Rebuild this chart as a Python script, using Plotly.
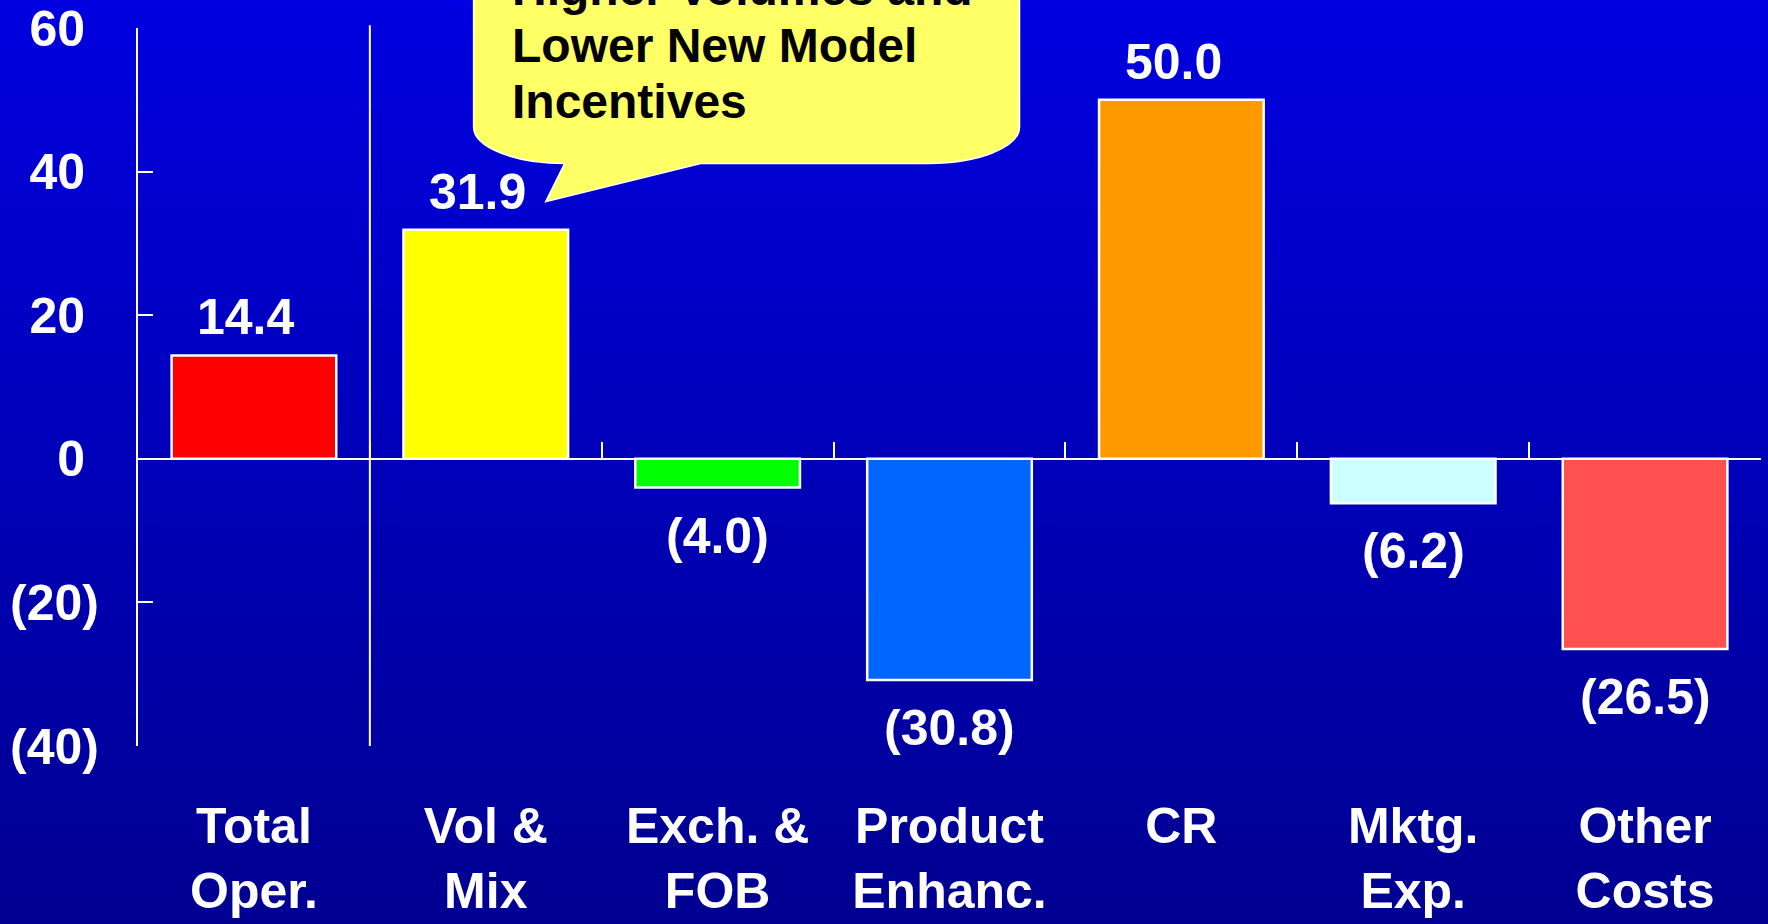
import plotly.graph_objects as go

# ---------------- data ----------------
categories = ["Total<br>Oper.", "Vol &<br>Mix", "Exch. &<br>FOB", "Product<br>Enhanc.",
              "CR", "Mktg.<br>Exp.", "Other<br>Costs"]
values = [14.4, 31.9, -4.0, -30.8, 50.0, -6.2, -26.5]
value_labels = ["14.4", "31.9", "(4.0)", "(30.8)", "50.0", "(6.2)", "(26.5)"]
bar_colors = ["#FF0000", "#FFFF00", "#00FF00", "#0066FF", "#FF9900", "#CCFFFF", "#FF5050"]
y_tickvals = [60, 40, 20, 0, -20, -40]
y_ticktext = ["60\u00a0", "40\u00a0", "20\u00a0", "0\u00a0", "(20)", "(40)"]
callout_lines = ["Higher Volumes and", "Lower New Model", "Incentives"]

# ---------------- layout geometry ----------------
W, H = 1768, 924
ML, MR, MT, MB = 138, 7, 28, 178
PW, PH = W - ML - MR, H - MT - MB
FONT = "Liberation Sans, Arial, sans-serif"


def px(xp):
    return (xp - ML) / PW


def py(yp):
    return (H - MB - yp) / PH


shapes = []

# background vertical gradient (bands)
N = 120
top_c, bot_c = (0, 0, 224), (0, 0, 145)
for i in range(N):
    t = (i + 0.5) / N
    c = tuple(round(top_c[k] + (bot_c[k] - top_c[k]) * t) for k in range(3))
    y0p = H * i / N
    y1p = H * (i + 1) / N + 1
    shapes.append(dict(type="rect", xref="paper", yref="paper", layer="below",
                       x0=px(-2), x1=px(W + 2), y0=py(y1p), y1=py(y0p),
                       fillcolor="rgb(%d,%d,%d)" % c, line=dict(width=0)))

# divider between total and components
shapes.append(dict(type="line", xref="x", yref="paper", x0=0.5, x1=0.5, y0=0, y1=1.004,
                   line=dict(color="white", width=2), layer="above"))

# callout bubble
L_, R_, Bt = 473.6, 1019.5, 163.5
ry, rx = 36.5, 91.0
k = 0.552
tip, tail_r = (545.7, 201.7), (700.7, Bt)
top = -80


def P(x, y):
    return "%.5f,%.5f" % (px(x), py(y))


path = (
    "M " + P(L_, top) +
    " L " + P(L_, Bt - ry) +
    " C " + P(L_, Bt - ry + k * ry) + " " + P(L_ + rx - k * rx, Bt) + " " + P(L_ + rx, Bt) +
    " L " + P(*tip) +
    " L " + P(*tail_r) +
    " L " + P(R_ - rx, Bt) +
    " C " + P(R_ - rx + k * rx, Bt) + " " + P(R_, Bt - ry + k * ry) + " " + P(R_, Bt - ry) +
    " L " + P(R_, top) + " Z"
)
shapes.append(dict(type="path", xref="paper", yref="paper", path=path, layer="above",
                   fillcolor="#FFFF66", line=dict(color="white", width=1.5)))

# ---------------- figure ----------------
fig = go.Figure()
fig.add_trace(go.Bar(
    x=categories, y=values, width=0.71,
    marker=dict(color=bar_colors, line=dict(color="white", width=2.5)),
    hoverinfo="skip", showlegend=False,
))

annotations = []
for c, v, lab in zip(categories, values, value_labels):
    annotations.append(dict(
        x=c, y=v, xref="x", yref="y", text=lab, showarrow=False,
        yanchor="bottom" if v > 0 else "top",
        yshift=8 if v > 0 else -18,
        xshift=-8 if v > 0 else 0,
        font=dict(family=FONT, size=50, color="white", weight="bold"),
    ))

# callout text lines
baselines = [5, 61.7, 118.3]
for line, b in zip(callout_lines, baselines):
    annotations.append(dict(
        x=px(510), y=py(b - 16.6), xref="paper", yref="paper", text=line,
        showarrow=False, xanchor="left", yanchor="middle", align="left",
        font=dict(family=FONT, size=48, color="black", weight="bold"),
    ))

fig.update_layout(
    width=W, height=H,
    margin=dict(l=ML, r=MR, t=MT, b=MB, pad=0),
    paper_bgcolor="rgb(0,0,185)",
    plot_bgcolor="rgba(0,0,0,0)",
    shapes=shapes,
    annotations=annotations,
    showlegend=False,
    bargap=0.29,
    xaxis=dict(
        type="category", range=[-0.5, 6.5], anchor="free", position=0.4,
        showline=True, linecolor="white", linewidth=2,
        ticks="inside", tickson="boundaries", ticklen=16, tickwidth=2, tickcolor="white",
        showgrid=False, zeroline=False, automargin=False,
        tickfont=dict(family=FONT, size=50, color="white", weight="bold"),
        ticklabelstandoff=323,
    ),
    yaxis=dict(
        range=[-40, 60], tickmode="array", tickvals=y_tickvals, ticktext=y_ticktext,
        showline=True, linecolor="white", linewidth=2,
        ticks="inside", ticklen=15, tickwidth=2, tickcolor="white",
        showgrid=False, zeroline=False, automargin=False,
        tickfont=dict(family=FONT, size=50, color="white", weight="bold"),
        ticklabelstandoff=27,
    ),
)

fig.write_html("out.html")
